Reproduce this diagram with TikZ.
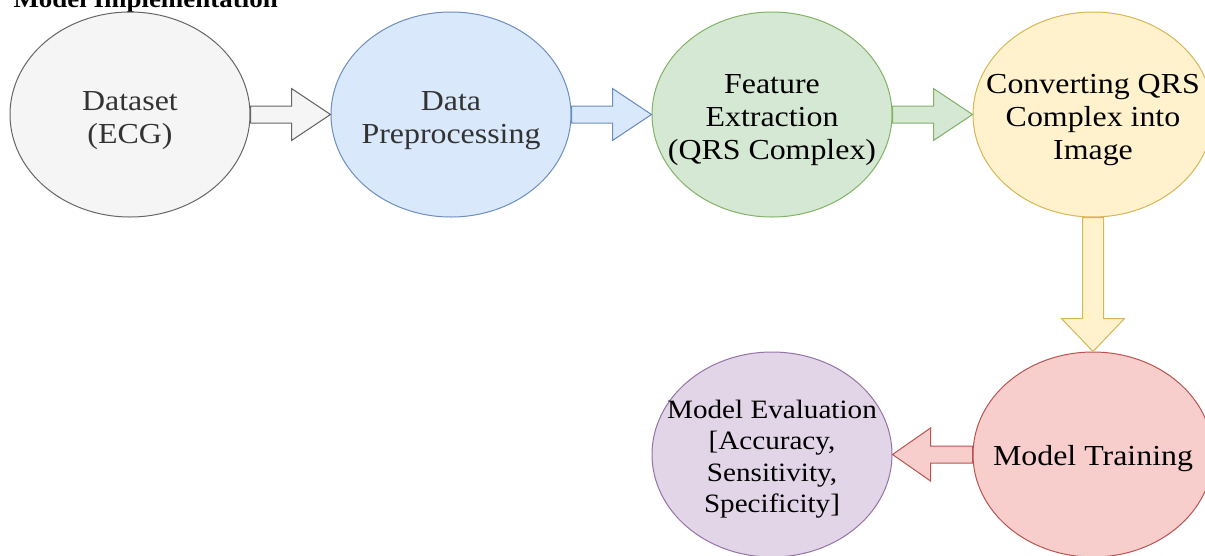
\documentclass[tikz,border=0pt]{standalone}
\usepackage{fontspec}
\setmainfont{Liberation Serif}[FakeStretch=1.1]
\usetikzlibrary{shapes.geometric,calc}
\definecolor{grayF}{HTML}{F5F5F5}\definecolor{grayS}{HTML}{666666}
\definecolor{blueF}{HTML}{DAE8FC}\definecolor{blueS}{HTML}{6C8EBF}
\definecolor{greenF}{HTML}{D5E8D4}\definecolor{greenS}{HTML}{82B366}
\definecolor{yelF}{HTML}{FFF2CC}\definecolor{yelS}{HTML}{D6B656}
\definecolor{redF}{HTML}{F8CECC}\definecolor{redS}{HTML}{B85450}
\definecolor{purF}{HTML}{E1D5E7}\definecolor{purS}{HTML}{9673A6}
\definecolor{txtgray}{HTML}{333333}
\newcommand\blkR[3]{\path[#3] let \p1=(#1.east), \p2=(#2.west) in
  (\x1,{\y1+8.5pt}) -- ({\x2-39pt},{\y1+8.5pt}) -- ({\x2-39pt},{\y1+26pt}) -- (\x2,\y1)
  -- ({\x2-39pt},{\y1-26pt}) -- ({\x2-39pt},{\y1-8.5pt}) -- (\x1,{\y1-8.5pt}) -- cycle;}
\newcommand\blkL[3]{\path[#3] let \p1=(#1.west), \p2=(#2.east) in
  (\x1,{\y1+8.5pt}) -- ({\x2+38pt},{\y1+8.5pt}) -- ({\x2+38pt},{\y1+26.5pt}) -- (\x2,\y1)
  -- ({\x2+38pt},{\y1-26.5pt}) -- ({\x2+38pt},{\y1-8.5pt}) -- (\x1,{\y1-8.5pt}) -- cycle;}
\newcommand\blkD[3]{\path[#3] let \p1=(#1.south), \p2=(#2.north) in
  ({\x1-10.5pt},\y1) -- ({\x1-10.5pt},{\y2+33pt}) -- ({\x1-31.5pt},{\y2+33pt}) -- (\x1,\y2)
  -- ({\x1+31.5pt},{\y2+33pt}) -- ({\x1+10.5pt},{\y2+33pt}) -- ({\x1+10.5pt},\y1) -- cycle;}
\begin{document}
\begin{tikzpicture}[x=1pt,y=-1pt,
  stage/.style={ellipse,draw,line width=1pt,minimum width=240pt,minimum height=205pt,
    inner sep=0pt},
  lbl/.style={align=center,inner sep=0pt,font=\fontsize{29}{33}\selectfont},
  blk/.style={line width=1pt,line join=miter}]
\useasboundingbox (0,0) rectangle (1205,555);
\clip (0,0) rectangle (1205,555);
\node[anchor=base west,font=\fontsize{24.5}{28}\selectfont\bfseries] (title) at (10,7) {Model Implementation};
\node[stage,draw=grayS,fill=grayF] (ds) at (130,114.5) {};
\node[stage,draw=blueS,fill=blueF] (dp) at (451,114.5) {};
\node[stage,draw=greenS,fill=greenF] (fe) at (772,114.5) {};
\node[stage,draw=yelS,fill=yelF] (cq) at (1093,114.5) {};
\node[stage,draw=redS,fill=redF] (mt) at (1093,454.5) {};
\node[stage,draw=purS,fill=purF] (me) at (772,454.5) {};
\node[lbl,text=txtgray] (dsT) at ([yshift=-6pt]ds.center) {Dataset\\(ECG)};
\node[lbl,text=txtgray] (dpT) at ([yshift=-6pt]dp.center) {Data\\Preprocessing};
\node[lbl] (feT) at ([yshift=-6pt]fe.center) {Feature\\Extraction\\(QRS Complex)};
\node[lbl] (cqT) at ([yshift=-6pt]cq.center) {Converting QRS\\Complex into\\Image};
\node[lbl] (mtT) at ([yshift=-4pt]mt.center) {Model Training};
\node[lbl,font=\fontsize{26.5}{31.5}\selectfont] (meT) at ([yshift=-4.5pt]me.center) {Model Evaluation\\{}[Accuracy,\\Sensitivity,\\Specificity]};
\blkR{ds}{dp}{blk,draw=grayS,fill=grayF}
\blkR{dp}{fe}{blk,draw=blueS,fill=blueF}
\blkR{fe}{cq}{blk,draw=greenS,fill=greenF}
\blkD{cq}{mt}{blk,draw=yelS,fill=yelF}
\blkL{mt}{me}{blk,draw=redS,fill=redF}
\end{tikzpicture}
\end{document}
